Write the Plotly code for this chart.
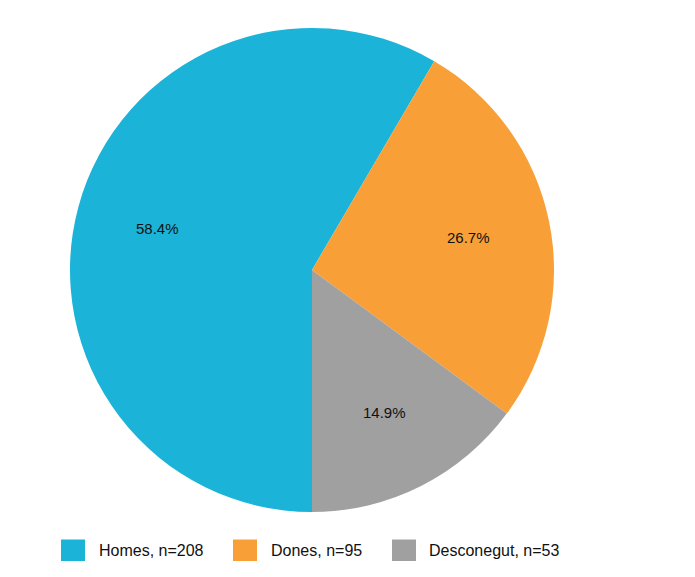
import math
import plotly.graph_objects as go

labels = ["Homes", "Dones", "Desconegut"]
counts = [208, 95, 53]
colors = ["#1bb3d8", "#f8a037", "#a0a0a0"]

W, H = 695, 577
OFF = 8  # page body margin shifts the plot by this much
FONT = "Liberation Sans, Arial, sans-serif"
total = sum(counts)
pct_text = ["%.1f%%" % (100 * c / total) for c in counts]

# pie geometry in pixels (reference coordinates)
cx, cy, r = 312 - OFF, 270 - OFF, 242

fig = go.Figure()
fig.add_trace(go.Pie(
    labels=labels,
    values=counts,
    textinfo="none",
    marker=dict(colors=colors, line=dict(width=0)),
    sort=False,
    direction="clockwise",
    rotation=180,
    showlegend=False,
    hoverinfo="label+value+percent",
    domain=dict(x=[(cx - r) / W, (cx + r) / W], y=[1 - (cy + r) / H, 1 - (cy - r) / H]),
))

annotations = []
# percentage labels at ~2/3 of the radius, mid-angle of each slice
start = 180.0
for i, c in enumerate(counts):
    sweep = 360.0 * c / total
    mid = math.radians(start + sweep / 2)
    start += sweep
    px = cx + 0.66 * r * math.sin(mid)
    py = cy - 0.66 * r * math.cos(mid)
    annotations.append(dict(x=px / W, y=1 - py / H, xref="paper", yref="paper",
                            xanchor="center", yanchor="middle", showarrow=False,
                            text=pct_text[i],
                            font=dict(size=15, color="#111111", family=FONT)))

# legend drawn by hand to get the large square keys
key_x = [61, 233, 392]
text_x = [98, 270, 428]
shapes = []
for i, lab in enumerate(labels):
    kx = key_x[i] - OFF
    shapes.append(dict(type="rect", xref="paper", yref="paper",
                       x0=kx / W, x1=(kx + 24) / W,
                       y0=1 - (561 - OFF) / H, y1=1 - (539.5 - OFF) / H,
                       fillcolor=colors[i], line=dict(width=0)))
    annotations.append(dict(x=(text_x[i] - OFF - 1) / W, y=1 - (550 - OFF) / H,
                            xref="paper", yref="paper", xanchor="left", yanchor="middle",
                            showarrow=False, text="%s, n=%d" % (lab, counts[i]),
                            font=dict(size=16, color="#111111", family=FONT)))

fig.update_layout(
    width=W, height=H,
    margin=dict(l=0, r=0, t=0, b=0),
    paper_bgcolor="white",
    plot_bgcolor="white",
    shapes=shapes,
    annotations=annotations,
)

fig.write_html("out.html")
